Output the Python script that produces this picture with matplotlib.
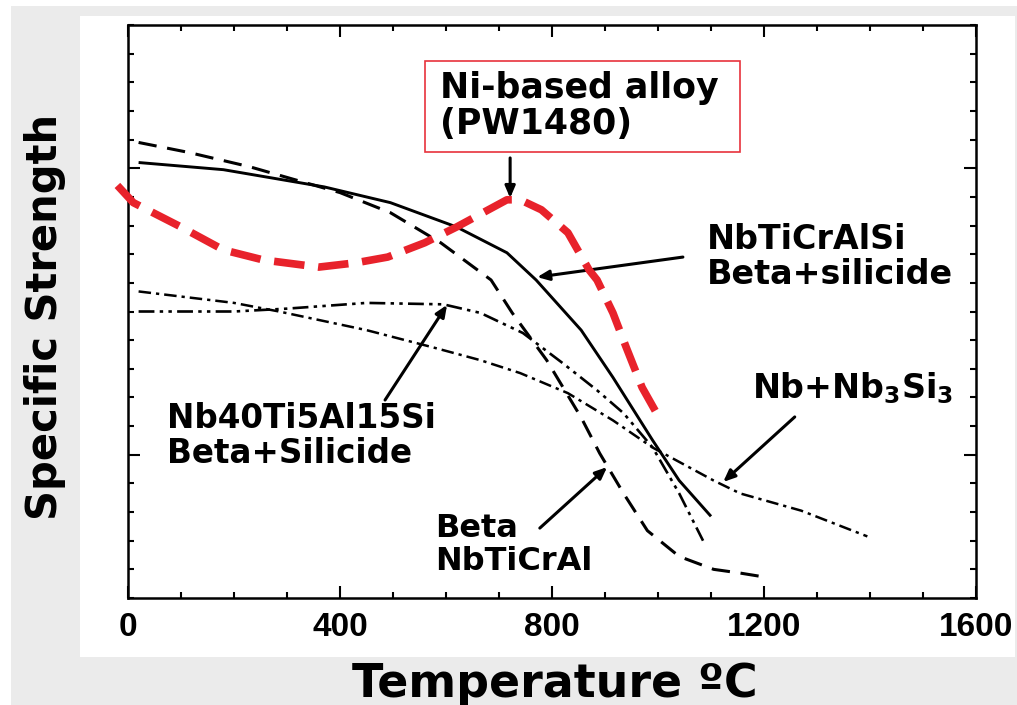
import matplotlib.pyplot as plt
from matplotlib.patches import Rectangle
from matplotlib.ticker import MultipleLocator

# curves (temperature in C, specific strength on a 0-20 scale)
ni_temp = [-20, 10, 100, 180, 255, 360, 430, 490, 560, 620, 715, 740, 780, 830, 870, 885, 915, 940, 970, 1005]
ni_str = [14.4, 13.8, 12.95, 12.15, 11.8, 11.55, 11.7, 11.9, 12.4, 12.95, 13.9, 13.9, 13.55, 12.75, 11.45, 11.1,
          9.95, 8.75, 7.35, 6.2]

sil_temp = [20, 180, 370, 495, 620, 715, 770, 855, 915, 990, 1040, 1100]
sil_str = [15.2, 14.95, 14.35, 13.8, 12.95, 12.05, 11.1, 9.35, 7.7, 5.5, 4.1, 2.85]

beta_temp = [20, 115, 230, 400, 495, 590, 685, 725, 790, 855, 890, 935, 980, 1040, 1105, 1155, 1195]
beta_str = [15.9, 15.55, 15.05, 14.15, 13.45, 12.4, 11.1, 9.95, 8.3, 6.3, 5.05, 3.65, 2.35, 1.45, 1.0, 0.87, 0.75]

nb40_temp = [20, 200, 300, 450, 595, 665, 745, 820, 885, 935, 990, 1040, 1085]
nb40_str = [10.0, 10.0, 10.1, 10.3, 10.25, 9.95, 9.25, 8.2, 7.25, 6.45, 5.25, 3.65, 2.0]

nbsi_temp = [20, 200, 285, 450, 575, 665, 740, 830, 915, 990, 1105, 1155, 1270, 1395]
nbsi_str = [10.7, 10.3, 10.0, 9.35, 8.75, 8.3, 7.85, 7.15, 6.2, 5.25, 4.1, 3.65, 3.05, 2.15]

x_ticks = [0, 400, 800, 1200, 1600]

plt.rcParams['mathtext.fontset'] = 'dejavusans'

fig = plt.figure(figsize=(10.17, 7.05), dpi=100)
fig.patch.set_facecolor('white')
# grey frame + white inner panel like the screenshot
fig.patches.append(Rectangle((11 / 1017, 0), 1 - 11 / 1017, 1 - 6 / 705, transform=fig.transFigure,
                             facecolor='#ebebeb', edgecolor='none', zorder=-10))
fig.patches.append(Rectangle((80 / 1017, 1 - 657 / 705), (1015 - 80) / 1017, (657 - 16) / 705,
                             transform=fig.transFigure, facecolor='white', edgecolor='none', zorder=-9))

ax = fig.add_axes([128 / 1017, 1 - 598 / 705, (976 - 128) / 1017, (598 - 25) / 705])
ax.set_facecolor('none')

ax.plot(sil_temp, sil_str, color='black', lw=2.1, solid_capstyle='butt')
ax.plot(beta_temp, beta_str, color='black', lw=2.2, dashes=(6, 3.5))
ax.plot(nb40_temp, nb40_str, color='black', lw=1.9, dashes=(6, 2, 1.3, 2, 1.3, 2))
ax.plot(nbsi_temp, nbsi_str, color='black', lw=1.8, dashes=(5, 2, 1.3, 2))
ax.plot(ni_temp, ni_str, color='#e8222b', lw=5.5, dashes=(4, 1.8), clip_on=False, zorder=5)

ax.set_xlim(0, 1600)
ax.set_ylim(0, 20)
ax.set_xticks(x_ticks)
ax.set_xticklabels([str(t) for t in x_ticks])
ax.xaxis.set_minor_locator(MultipleLocator(100))
ax.set_yticks([5, 15])
ax.yaxis.set_minor_locator(MultipleLocator(1))
ax.set_yticklabels([])
ax.tick_params(which='both', direction='in', top=True, right=True, width=1.5, color='black')
ax.tick_params(which='major', length=8.5)
ax.tick_params(which='minor', length=4.5)
ax.tick_params(axis='x', which='major', pad=10, labelsize=24)
for lab in ax.get_xticklabels():
    lab.set_family('Liberation Sans')
    lab.set_fontweight('bold')
for sp in ax.spines.values():
    sp.set_linewidth(1.8)

txt = dict(fontsize=24, fontweight='bold', color='black', va='center', ha='left', linespacing=1.1)

ax.add_patch(Rectangle((560, 15.57), 595, 3.17, facecolor='white', edgecolor='#e8323c', lw=1.2, zorder=6))
ax.text(589, 17.17, 'Ni-based alloy\n(PW1480)', zorder=7, **{**txt, 'fontsize': 25})
ax.text(1092, 11.9, 'NbTiCrAlSi\nBeta+silicide', **txt)
ax.text(74, 5.65, 'Nb40Ti5Al15Si\nBeta+Silicide', **{**txt, 'fontsize': 23.5})
ax.text(579, 1.85, 'Beta\nNbTiCrAl', **{**txt, 'fontsize': 23})
ax.text(1177, 7.33, r'Nb+Nb$_\mathbf{3}$Si$_\mathbf{3}$', **txt)

arrow = dict(arrowstyle='-|>,head_length=0.7,head_width=0.3', lw=2.2, color='black',
             shrinkA=0, shrinkB=0)
ax.annotate('', xy=(721, 13.96), xytext=(721, 15.36), arrowprops=arrow, zorder=8)
ax.annotate('', xy=(772, 11.2), xytext=(1047, 11.9), arrowprops=arrow)
ax.annotate('', xy=(602, 10.23), xytext=(485, 6.91), arrowprops=arrow)
ax.annotate('', xy=(904, 4.57), xytext=(777, 2.44), arrowprops=arrow)
ax.annotate('', xy=(1123, 4.05), xytext=(1258, 6.32), arrowprops=arrow)

fig.text(45 / 1017, 1 - 317 / 705, 'Specific Strength', rotation=90, ha='center', va='center',
         fontsize=30, fontweight='bold')
fig.text(555 / 1017, 1 - 697 / 705, 'Temperature ºC', ha='center', va='baseline',
         fontsize=33, fontweight='bold')

fig.savefig('out.png', dpi=100)
